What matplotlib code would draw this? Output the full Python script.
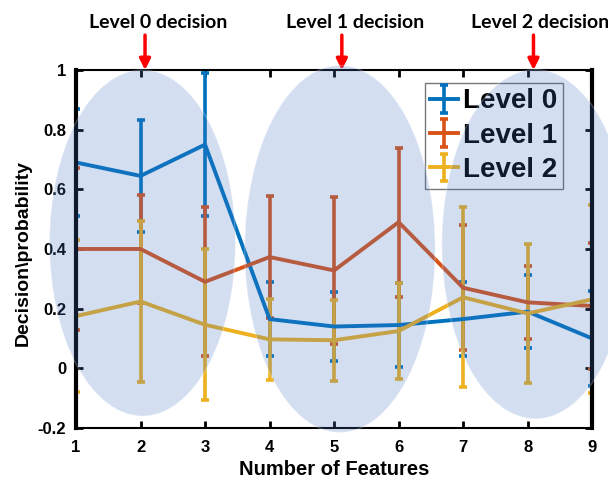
import matplotlib
matplotlib.use("Agg")
import matplotlib.pyplot as plt
from matplotlib.patches import Ellipse
from matplotlib.ticker import FormatStrFormatter
import numpy as np

# data
n_features = [1, 2, 3, 4, 5, 6, 7, 8, 9]
level0_mean = [0.69, 0.645, 0.75, 0.165, 0.14, 0.145, 0.165, 0.19, 0.10]
level0_err = [0.18, 0.188, 0.24, 0.125, 0.115, 0.14, 0.125, 0.123, 0.16]
level1_mean = [0.40, 0.40, 0.29, 0.373, 0.328, 0.49, 0.27, 0.221, 0.209]
level1_err = [0.27, 0.18, 0.25, 0.205, 0.245, 0.25, 0.21, 0.123, 0.21]
level2_mean = [0.175, 0.224, 0.146, 0.097, 0.094, 0.125, 0.238, 0.184, 0.231]
level2_err = [0.255, 0.27, 0.253, 0.135, 0.135, 0.162, 0.302, 0.232, 0.315]
series_names = ["Level 0", "Level 1", "Level 2"]
decision_labels = ["Level 0 decision", "Level 1 decision", "Level 2 decision"]
arrow_x = [2.07, 5.12, 8.09]
label_x = [2.27, 5.33, 8.19]

colors = ["#0072BD", "#D95319", "#EDB120"]

plt.rcParams["font.family"] = ["Liberation Sans", "DejaVu Sans"]
plt.rcParams["font.weight"] = "bold"

fig = plt.figure(figsize=(6.08, 4.83), dpi=100)
ax = fig.add_axes([0.125, 0.114, 0.849, 0.741])

for mean, err, c, name in zip([level0_mean, level1_mean, level2_mean],
                              [level0_err, level1_err, level2_err],
                              colors, series_names):
    ax.errorbar(n_features, mean, yerr=err, color=c, linewidth=2.8,
                elinewidth=2.6, capsize=3, capthick=2.6, label=name)

# shaded decision regions
for cx, cy, w, h in [(2.03, 0.42, 2.88, 1.16), (5.09, 0.40, 2.95, 1.23), (8.12, 0.416, 2.9, 1.17)]:
    e = Ellipse((cx, cy), w, h, facecolor="#4472C4", alpha=0.23,
                edgecolor="white", linewidth=1, zorder=10, clip_on=False)
    ax.add_patch(e)

ax.set_xlim(1, 9)
ax.set_ylim(-0.2, 1)
ax.set_xticks(n_features)
ax.set_yticks(np.arange(-0.2, 1.01, 0.2))
ax.yaxis.set_major_formatter(FormatStrFormatter("%g"))
ax.tick_params(direction="in", length=5, width=2, labelsize=12,
               top=True, right=True)
ax.tick_params(axis="x", pad=9)
ax.tick_params(axis="y", pad=7)
for s in ["left", "right"]:
    ax.spines[s].set_linewidth(3)
for s in ["top", "bottom"]:
    ax.spines[s].set_linewidth(1.5)

ax.set_xlabel("Number of Features", fontsize=14.5, fontweight="bold", labelpad=3)
ax.set_ylabel("Decision\\probability", fontsize=14, fontweight="bold")
ax.yaxis.set_label_coords(-0.085, 0.49)

leg = ax.legend(loc="upper right", prop={"size": 20, "weight": "bold"},
                handlelength=1.0, handletextpad=0.2, borderpad=0.2,
                labelspacing=0.3, fancybox=False, edgecolor="#555555",
                borderaxespad=0, bbox_to_anchor=(0.944, 0.964))
leg.get_frame().set_linewidth(1)

# arrows and labels above the plot
for ax_x, lx, lab in zip(arrow_x, label_x, decision_labels):
    ax.annotate("", xy=(ax_x, 1.0), xytext=(ax_x, 1.117), annotation_clip=False,
                arrowprops=dict(arrowstyle="-|>", color="red", lw=2.5,
                                mutation_scale=16, shrinkA=0, shrinkB=0))
    ax.text(lx, 1.16, lab, ha="center", va="center", fontsize=14,
            family=["Lato", "DejaVu Sans"], fontweight="bold", clip_on=False)

fig.savefig("out.png", dpi=100)
